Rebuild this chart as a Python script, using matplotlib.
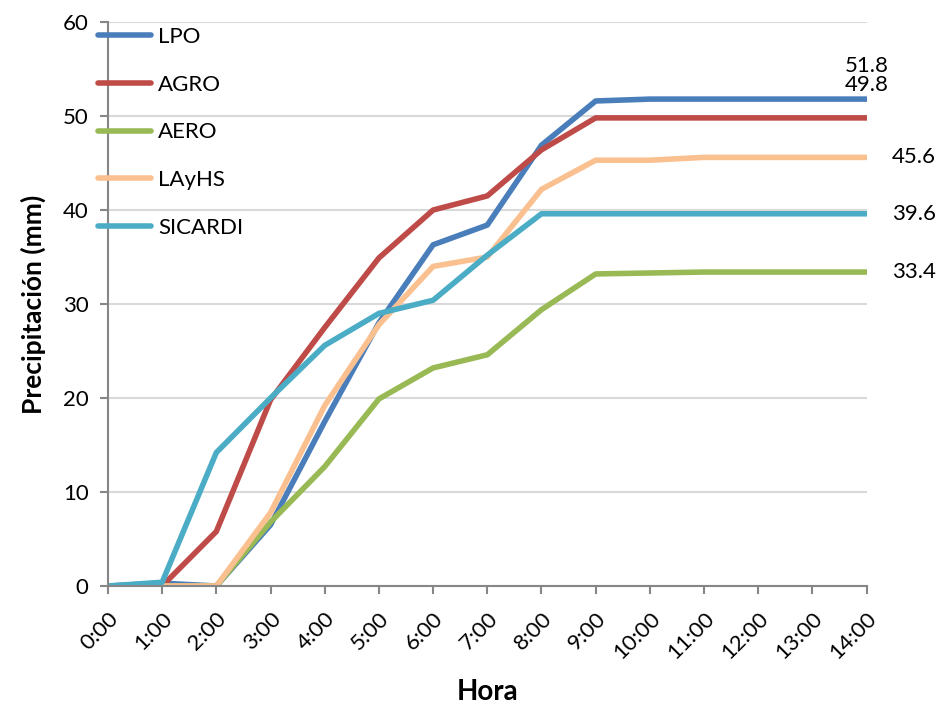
import numpy as np
import matplotlib
matplotlib.use('Agg')
import matplotlib.pyplot as plt

plt.rcParams['font.family'] = ['Lato', 'DejaVu Sans']

# datos
horas = ['0:00', '1:00', '2:00', '3:00', '4:00', '5:00', '6:00', '7:00',
         '8:00', '9:00', '10:00', '11:00', '12:00', '13:00', '14:00']
lpo = [0, 0.3, 0, 6.5, 17.5, 28.0, 36.3, 38.4, 46.9, 51.6, 51.8, 51.8, 51.8, 51.8, 51.8]
agro = [0, 0, 5.8, 19.8, 27.5, 34.9, 40.0, 41.5, 46.4, 49.8, 49.8, 49.8, 49.8, 49.8, 49.8]
aero = [0, 0, 0, 6.8, 12.7, 19.9, 23.2, 24.6, 29.4, 33.2, 33.3, 33.4, 33.4, 33.4, 33.4]
layhs = [0, 0, 0, 7.8, 19.2, 27.8, 34.0, 35.0, 42.2, 45.3, 45.3, 45.6, 45.6, 45.6, 45.6]
sicardi = [0, 0.4, 14.2, 20.0, 25.6, 29.0, 30.4, 35.2, 39.6, 39.6, 39.6, 39.6, 39.6, 39.6, 39.6]

series = [('LPO', lpo, '#4A7EBB'),
          ('AGRO', agro, '#BE4B48'),
          ('AERO', aero, '#98B954'),
          ('LAyHS', layhs, '#FAC090'),
          ('SICARDI', sicardi, '#4BACC6')]

fig = plt.figure(figsize=(9.42, 7.08), dpi=100)
ax = fig.add_axes([0.1146, 0.1723, 0.8054, 0.7966])

x = np.arange(len(horas))
for nombre, vals, color in series:
    ax.plot(x, vals, color=color, lw=4.0, label=nombre, solid_capstyle='round')

# etiquetas del último valor
offsets = {'LPO': (0, 24), 'AGRO': (0, 24), 'AERO': (18, 0),
           'LAyHS': (18, 0), 'SICARDI': (18, 0)}
for nombre, vals, color in series:
    dx, dy = offsets[nombre]
    ha = 'left' if dx > 0 else 'center'
    ax.annotate(f'{vals[-1]:.1f}', (x[-1], vals[-1]), xytext=(dx, dy),
                textcoords='offset points', ha=ha, va='center',
                fontsize=16, annotation_clip=False)

ax.set_xlim(0, len(horas) - 1)
ax.set_ylim(0, 60)
ax.set_yticks(range(0, 61, 10))
ax.set_xticks(x)
ax.set_xticklabels(horas, rotation=45, ha='right', rotation_mode='anchor')
ax.tick_params(axis='both', labelsize=16, direction='out', length=6,
               color='#868686', width=1.5)
ax.tick_params(axis='x', pad=10)
ax.tick_params(axis='y', pad=8)

ax.grid(axis='y', color='#D9D9D9', lw=1.5)
ax.set_axisbelow(True)
for s in ['top', 'right']:
    ax.spines[s].set_visible(False)
for s in ['left', 'bottom']:
    ax.spines[s].set_color('#868686')
    ax.spines[s].set_linewidth(1.5)

ax.set_xlabel('Hora', fontsize=20, fontweight='bold', labelpad=12)
ax.set_ylabel('Precipitación (mm)', fontsize=19, fontweight='bold', labelpad=12)

ax.legend(loc='upper left', bbox_to_anchor=(0.104, 0.962), bbox_transform=fig.transFigure,
          frameon=False, fontsize=16, handlelength=2.4, handletextpad=0.3,
          labelspacing=1.25, borderaxespad=0, borderpad=0)

fig.savefig('out.png', dpi=100)
